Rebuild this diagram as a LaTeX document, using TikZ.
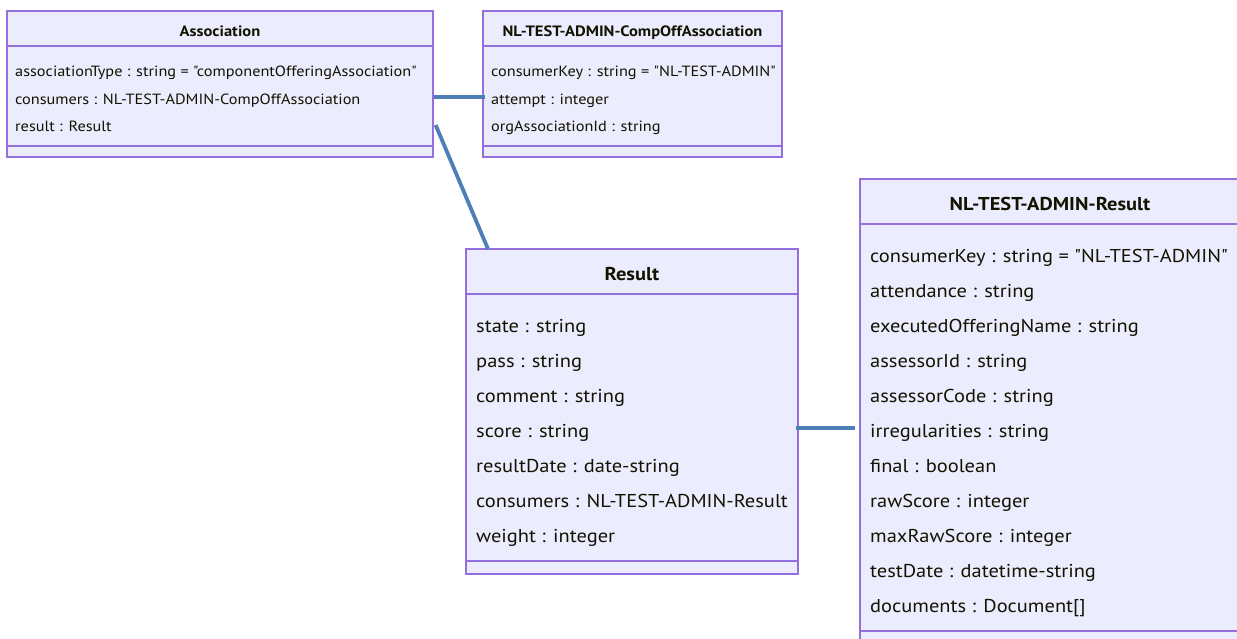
\documentclass[tikz,border=0pt]{standalone}
\usepackage{fontspec}
\newfontfamily\ptsans{PT Sans}[FakeStretch=1.1]
\definecolor{boxfill}{HTML}{ECECFF}
\definecolor{boxline}{HTML}{9370DB}
\definecolor{linkcol}{HTML}{4F7DB5}
\definecolor{txt}{HTML}{131300}
\begin{document}
\begin{tikzpicture}[x=1pt,y=-1pt,
  box/.style={draw=boxline,fill=boxfill,line width=1.3pt,inner sep=0pt,rectangle},
  sep/.style={draw=boxline,line width=1.3pt},
  link/.style={draw=linkcol,line width=3.8pt},
  smallhead/.style={font=\ptsans\fontsize{15}{17}\selectfont\bfseries,text=txt,inner sep=0pt,anchor=mid},
  smallattr/.style={font=\ptsans\fontsize{14.8}{17}\selectfont,text=txt,inner sep=0pt,anchor=mid west},
  bighead/.style={font=\ptsans\fontsize{18.6}{20}\selectfont\bfseries,text=txt,inner sep=0pt,anchor=mid},
  bigattr/.style={font=\ptsans\fontsize{18.6}{20}\selectfont,text=txt,inner sep=0pt,anchor=mid west}]
\useasboundingbox (0,0) rectangle (1237,639);
\begin{scope}
\clip (0,0) rectangle (1237,639);
% Association
\node[box,minimum width=426pt,minimum height=146pt] (assoc) at (220,84) {};
\draw[sep] (7,46) -- (433,46);
\draw[sep] (7,146) -- (433,146);
\node[smallhead] (assocT) at (220,34) {Association};
\node[smallattr] (a1) at (15,74) {associationType : string = "componentOfferingAssociation"};
\node[smallattr] (a2) at (15,102) {consumers : NL-TEST-ADMIN-CompOffAssociation};
\node[smallattr] (a3) at (15,129) {result : Result};
% CompOff
\node[box,minimum width=299pt,minimum height=146pt] (comp) at (632.5,84) {};
\draw[sep] (483,46) -- (782,46);
\draw[sep] (483,146) -- (782,146);
\node[smallhead] (compT) at (632.5,34) {NL-TEST-ADMIN-CompOffAssociation};
\node[smallattr] (c1) at (491,74) {consumerKey : string = "NL-TEST-ADMIN"};
\node[smallattr] (c2) at (491,102) {attempt : integer};
\node[smallattr] (c3) at (491,129) {orgAssociationId : string};
% Result
\node[box,minimum width=332pt,minimum height=325pt] (res) at (632,411.5) {};
\draw[sep] (466,294) -- (798,294);
\draw[sep] (466,561) -- (798,561);
\node[bighead] (resT) at (632,278) {Result};
\node[bigattr] (r1) at (476,330) {state : string};
\node[bigattr] (r2) at (476,365) {pass : string};
\node[bigattr] (r3) at (476,400) {comment : string};
\node[bigattr] (r4) at (476,435) {score : string};
\node[bigattr] (r5) at (476,470) {resultDate : date-string};
\node[bigattr] (r6) at (476,505) {consumers : NL-TEST-ADMIN-Result};
\node[bigattr] (r7) at (476,540) {weight : integer};
% NL-TEST-ADMIN-Result
\node[box,minimum width=380pt,minimum height=466pt] (nlres) at (1050,412) {};
\draw[sep] (860,224) -- (1240,224);
\draw[sep] (860,631) -- (1240,631);
\node[bighead] (nlT) at (1050,208) {NL-TEST-ADMIN-Result};
\node[bigattr] (n1) at (870,260) {consumerKey : string = "NL-TEST-ADMIN"};
\node[bigattr] (n2) at (870,295) {attendance : string};
\node[bigattr] (n3) at (870,330) {executedOfferingName : string};
\node[bigattr] (n4) at (870,365) {assessorId : string};
\node[bigattr] (n5) at (870,400) {assessorCode : string};
\node[bigattr] (n6) at (870,435) {irregularities : string};
\node[bigattr] (n7) at (870,470) {final : boolean};
\node[bigattr] (n8) at (870,505) {rawScore : integer};
\node[bigattr] (n9) at (870,540) {maxRawScore : integer};
\node[bigattr] (n10) at (870,575) {testDate : datetime-string};
\node[bigattr] (n11) at (870,610) {documents : Document[]};
% connectors
\coordinate (l1a) at (assoc.east |- 0,97);
\coordinate (l1b) at ([xshift=3pt]comp.west |- 0,97);
\draw[link] (l1a) -- (l1b);
\coordinate (l2a) at ([xshift=2pt]assoc.east |- 0,125);
\coordinate (l2b) at (488,249);
\draw[link] (l2a) -- (l2b);
\coordinate (l3a) at ([xshift=-3pt]res.east |- 0,428);
\coordinate (l3b) at ([xshift=-4pt]nlres.west |- 0,428);
\draw[link] (l3a) -- (l3b);
\end{scope}
\end{tikzpicture}
\end{document}
